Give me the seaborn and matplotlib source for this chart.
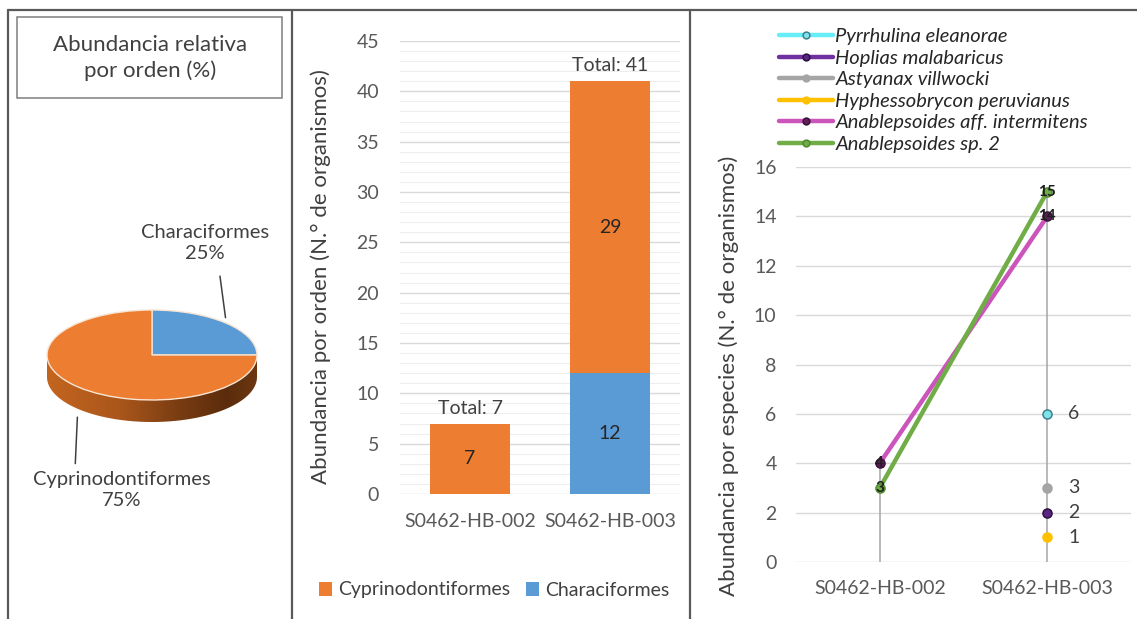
import numpy as np
import pandas as pd
import matplotlib
matplotlib.use("Agg")
import matplotlib.pyplot as plt
from matplotlib.lines import Line2D
from matplotlib.patches import Rectangle, Polygon
from matplotlib.colors import LinearSegmentedColormap
from matplotlib.ticker import MultipleLocator
import seaborn as sns

# ---------------- data ----------------
orders = ["Characiformes", "Cyprinodontiformes"]
order_share = [25, 75]                      # relative abundance (%)

sites = ["S0462-HB-002", "S0462-HB-003"]
cyprinodontiformes = [7, 29]
characiformes = [0, 12]

species = [
    "Pyrrhulina eleanorae",
    "Hoplias malabaricus",
    "Astyanax villwocki",
    "Hyphessobrycon peruvianus",
    "Anablepsoides aff. intermitens",
    "Anablepsoides sp. 2",
]
pyrrhulina = [np.nan, 6]
hoplias = [np.nan, 2]
astyanax = [np.nan, 3]
hyphessobrycon = [np.nan, 1]
anablepsoides_aff = [4, 14]
anablepsoides_sp2 = [3, 15]
species_counts = [pyrrhulina, hoplias, astyanax, hyphessobrycon,
                  anablepsoides_aff, anablepsoides_sp2]

# ---------------- style ----------------
ORANGE = "#ED7D31"
BLUE = "#5B9BD5"
TXT = "#404040"
TICK = "#595959"
GRID = "#d9d9d9"

line_styles = [
    dict(color="#66EDF5", mfc="#7fe3ea", mec="#3f7f8f"),
    dict(color="#7030A0", mfc="#5a2680", mec="#2b1040"),
    dict(color="#A5A5A5", mfc="#A5A5A5", mec="#A5A5A5"),
    dict(color="#FFC000", mfc="#FFC000", mec="#FFC000"),
    dict(color="#CC55BB", mfc="#5e1f58", mec="#3a1036"),
    dict(color="#70AD47", mfc="#70AD47", mec="#4f8a2f"),
]

sns.set_theme(style="white")
plt.rcParams["font.family"] = ["Lato", "DejaVu Sans"]
FS = 14
FS_LABEL = 16
FS_PIE = 14.5

W, H = 1137, 619
fig = plt.figure(figsize=(W / 100, H / 100), dpi=100)


def rect(x0, y0, x1, y1):
    return [x0 / W, 1 - y1 / H, (x1 - x0) / W, (y1 - y0) / H]


def fx(px):
    return px / W


def fy(py):
    return 1 - py / H


# ---------------- panel frame ----------------
frame_kw = dict(color="#595959", lw=1.6, transform=fig.transFigure)
fig.add_artist(Line2D([fx(8), 1], [fy(10), fy(10)], **frame_kw))
fig.add_artist(Line2D([fx(8), fx(8)], [fy(10), 0], **frame_kw))
fig.add_artist(Line2D([fx(292), fx(292)], [fy(10), 0], **frame_kw))
fig.add_artist(Line2D([fx(690), fx(690)], [fy(10), 0], **frame_kw))

# ---------------- pie (3-D look) ----------------
axp = fig.add_axes(rect(0, 150, 290, 560))
ppu_x, ppu_y = 105.0, 45.0                 # pixels per unit of radius
cx_px, cy_px = 152, 355
depth = 22 / ppu_y

theta = np.linspace(np.pi, 2 * np.pi, 200)
side_xy = np.concatenate([
    np.column_stack([np.cos(theta), np.sin(theta)]),
    np.column_stack([np.cos(theta[::-1]), np.sin(theta[::-1]) - depth]),
])
side_patch = Polygon(side_xy, closed=True, facecolor="none", edgecolor="none")
axp.add_patch(side_patch)
side_cmap = LinearSegmentedColormap.from_list(
    "side", [(0, "#c4651f"), (0.35, "#a9561b"), (0.62, "#7a3d12"),
             (0.85, "#5b2c0c"), (1, "#6c3711")])
img = axp.imshow(np.linspace(0, 1, 256).reshape(1, -1), cmap=side_cmap,
                 extent=(-1, 1, -1 - depth, 0), aspect="auto", zorder=1,
                 interpolation="bilinear")
img.set_clip_path(side_patch)

wedges, _ = axp.pie(order_share, colors=[BLUE, ORANGE], startangle=90,
                    counterclock=False, radius=1,
                    wedgeprops=dict(edgecolor="#f7e4d2", linewidth=1.0))
for w in wedges:
    w.set_zorder(2)

axp.set_aspect("auto")
axp.set_xlim(-cx_px / ppu_x, (290 - cx_px) / ppu_x)
axp.set_ylim(-(560 - cy_px) / ppu_y, (cy_px - 150) / ppu_y)
axp.axis("off")

# leader lines and labels, anchored at each wedge's mid angle
angles = []
start = 90.0
for v in order_share:
    span = v / sum(order_share) * 360
    angles.append(np.deg2rad(start - span / 2))
    start -= span

a0 = angles[0]
axp.annotate(f"{orders[0]}\n{order_share[0]}%",
             xy=(np.cos(a0), np.sin(a0)), xytext=(np.cos(a0) - 0.2, np.sin(a0) + 1.78),
             ha="center", va="center", fontsize=FS_PIE, color=TXT, linespacing=1.25,
             arrowprops=dict(arrowstyle="-", color="#404040", lw=1.1,
                             relpos=(0.6, 0.0), shrinkA=8, shrinkB=4), zorder=3)
a1 = angles[1]
axp.annotate(f"{orders[1]}\n{order_share[1]}%",
             xy=(np.cos(a1), np.sin(a1) - depth),
             xytext=(np.cos(a1) + 0.42, np.sin(a1) - depth - 1.8),
             ha="center", va="center", fontsize=FS_PIE, color=TXT, linespacing=1.25,
             arrowprops=dict(arrowstyle="-", color="#404040", lw=1.1,
                             relpos=(0.236, 1.0), shrinkA=3, shrinkB=6), zorder=3)

# title box
fig.add_artist(Rectangle((fx(17), fy(98)), (282 - 17) / W, (98 - 17) / H,
                         transform=fig.transFigure, fill=False,
                         edgecolor="#7f7f7f", lw=1.1))
fig.text(fx(150), fy(58), "Abundancia relativa\npor orden (%)", ha="center",
         va="center", fontsize=16, color=TXT, linespacing=1.35)

# ---------------- stacked bars ----------------
axb = fig.add_axes(rect(400, 41, 680, 494))
bar_df = pd.DataFrame({"site": sites,
                       "Cyprinodontiformes": cyprinodontiformes,
                       "Characiformes": characiformes})
bar_df["total"] = bar_df["Cyprinodontiformes"] + bar_df["Characiformes"]

sns.barplot(data=bar_df, x="site", y="total", color=ORANGE, saturation=1,
            width=0.57, linewidth=0, ax=axb, label="Cyprinodontiformes")
sns.barplot(data=bar_df, x="site", y="Characiformes", color=BLUE, saturation=1,
            width=0.57, linewidth=0, ax=axb, label="Characiformes")

for i, row in bar_df.iterrows():
    axb.text(i, row["Characiformes"] + row["Cyprinodontiformes"] / 2,
             str(row["Cyprinodontiformes"]), ha="center", va="center",
             fontsize=FS, color="#262626")
    if row["Characiformes"] > 0:
        axb.text(i, row["Characiformes"] / 2, str(row["Characiformes"]),
                 ha="center", va="center", fontsize=FS, color="#262626")
    axb.annotate(f"Total: {row['total']}", (i, row["total"]), xytext=(0, 5),
                 textcoords="offset points", ha="center", va="bottom",
                 fontsize=FS, color=TXT)

axb.set_ylim(0, 45)
axb.set_xlim(-0.5, 1.5)
axb.yaxis.set_major_locator(MultipleLocator(5))
axb.yaxis.set_minor_locator(MultipleLocator(1))
axb.grid(axis="y", which="major", color=GRID, lw=1.0)
axb.grid(axis="y", which="minor", color="#eeeeee", lw=0.8)
axb.set_axisbelow(True)
for s in axb.spines.values():
    s.set_visible(False)
axb.tick_params(axis="both", which="both", length=0, labelsize=FS,
                labelcolor=TICK)
axb.tick_params(axis="y", pad=15)
axb.tick_params(axis="x", pad=14)
axb.set_xlabel("")
axb.set_ylabel("Abundancia por orden (N.° de organismos)", fontsize=FS_LABEL,
               color=TXT)
axb.yaxis.set_label_coords(-0.245, 0.48)
axb.legend(loc="center", bbox_to_anchor=(fx(494), fy(590)),
           bbox_transform=fig.transFigure, ncol=2, frameon=False,
           fontsize=FS, handlelength=0.7, handleheight=0.7,
           handletextpad=0.3, columnspacing=0.8, labelcolor=TXT)

# ---------------- species lines ----------------
axl = fig.add_axes(rect(796, 167, 1131, 562))
xpos = np.arange(len(sites))
site_max = np.nanmax(np.array(species_counts, dtype=float), axis=0)
axl.vlines(xpos, 0, site_max, color="#a6a6a6", lw=1.1, zorder=1)

for name, vals, st in zip(species, species_counts, line_styles):
    df = pd.DataFrame({"x": xpos, "y": vals})
    sns.lineplot(data=df, x="x", y="y", ax=axl, color=st["color"], lw=3.2,
                 marker="o", markersize=6.5, markerfacecolor=st["mfc"],
                 markeredgecolor=st["mec"], markeredgewidth=1.1,
                 label=name, zorder=3)
    valid = [(x, v) for x, v in zip(xpos, vals) if not np.isnan(v)]
    for x, v in valid:
        if len(valid) > 1:
            axl.text(x, v, f"{v:g}", ha="center", va="center", fontsize=11,
                     color="#1f1f1f", fontweight="bold", zorder=5)
        else:
            axl.annotate(f"{v:g}", (x, v), xytext=(19, 0),
                         textcoords="offset points", ha="center", va="center",
                         fontsize=FS, color=TXT)

axl.set_ylim(0, 16)
axl.set_xlim(-0.5, 1.5)
axl.yaxis.set_major_locator(MultipleLocator(2))
axl.set_xticks(xpos)
axl.set_xticklabels(sites)
axl.grid(axis="y", color=GRID, lw=1.0)
axl.grid(axis="x", visible=False)
axl.set_axisbelow(True)
for s in axl.spines.values():
    s.set_visible(False)
axl.tick_params(axis="both", length=0, labelsize=FS, labelcolor=TICK)
axl.tick_params(axis="y", pad=14)
axl.tick_params(axis="x", pad=13)
axl.set_xlabel("")
axl.set_ylabel("Abundancia por especies (N.° de organismos)", fontsize=FS_LABEL,
               color=TXT)
axl.yaxis.set_label_coords(-0.17, 0.47)

handles, labels = axl.get_legend_handles_labels()
axl.legend(handles, labels, loc="upper left", bbox_to_anchor=(fx(779), fy(28)),
           bbox_transform=fig.transFigure, frameon=False,
           prop=dict(family=["Lato", "DejaVu Sans"], style="italic", size=14.5),
           handlelength=2.7, labelspacing=0.22, handletextpad=0.1,
           markerscale=0.75, borderpad=0, borderaxespad=0,
           labelcolor="#262626")

fig.savefig("out.png", dpi=100)
